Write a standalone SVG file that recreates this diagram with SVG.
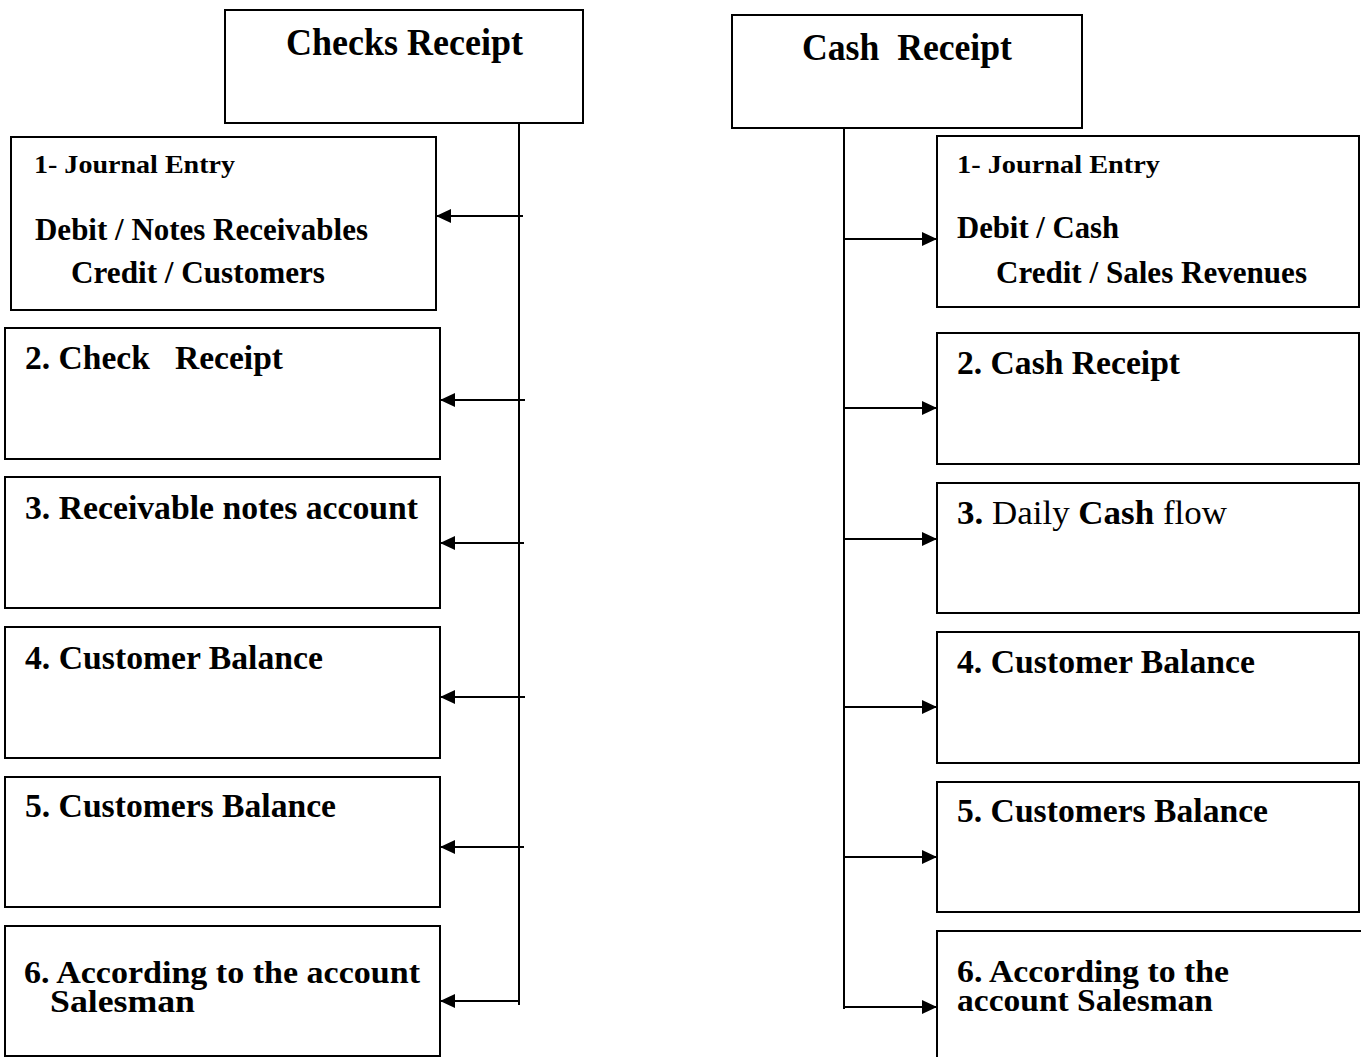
<svg xmlns="http://www.w3.org/2000/svg" width="1361" height="1057" viewBox="0 0 1361 1057">
<style>
.box{fill:#fff;stroke:#000;stroke-width:2}
.t{font-family:"Liberation Serif","Times New Roman",serif;font-weight:bold;fill:#000}
.r{font-weight:normal}
.ln{stroke:#000;stroke-width:2;fill:none}
</style>
<defs>
<marker id="ah" viewBox="0 0 15 14" refX="15" refY="7" markerWidth="15" markerHeight="14" markerUnits="userSpaceOnUse" orient="auto">
<path d="M0,0 L15,7 L0,14 Z" fill="#000"/>
</marker>
</defs>
<rect width="1361" height="1057" fill="#fff"/>

<g id="checks-receipt"><rect class="box" x="225" y="10" width="358" height="113"/>
<text class="t" x="286" y="55" font-size="37" textLength="237" lengthAdjust="spacingAndGlyphs">Checks Receipt</text></g>
<g id="left-1"><rect class="box" x="11" y="137" width="425" height="173"/>
<text class="t" x="34" y="173" font-size="25" textLength="201" lengthAdjust="spacingAndGlyphs">1- Journal Entry</text>
<text class="t" x="35" y="240" font-size="31" textLength="333" lengthAdjust="spacingAndGlyphs">Debit / Notes Receivables</text>
<text class="t" x="71" y="283" font-size="31" textLength="254" lengthAdjust="spacingAndGlyphs">Credit / Customers</text></g>
<g id="left-2"><rect class="box" x="5" y="328" width="435" height="131"/>
<text class="t" x="25" y="369" font-size="34" textLength="258" lengthAdjust="spacingAndGlyphs" xml:space="preserve">2. Check   Receipt</text></g>
<g id="left-3"><rect class="box" x="5" y="477" width="435" height="131"/>
<text class="t" x="25" y="519" font-size="34" textLength="393" lengthAdjust="spacingAndGlyphs">3. Receivable notes account</text></g>
<g id="left-4"><rect class="box" x="5" y="627" width="435" height="131"/>
<text class="t" x="25" y="669" font-size="34" textLength="298" lengthAdjust="spacingAndGlyphs">4. Customer Balance</text></g>
<g id="left-5"><rect class="box" x="5" y="777" width="435" height="130"/>
<text class="t" x="25" y="817" font-size="34" textLength="311" lengthAdjust="spacingAndGlyphs">5. Customers Balance</text></g>
<g id="left-6"><rect class="box" x="5" y="926" width="435" height="130"/>
<text class="t" x="24" y="983" font-size="32" textLength="396" lengthAdjust="spacingAndGlyphs">6. According to the account</text>
<text class="t" x="50" y="1012" font-size="32" textLength="145" lengthAdjust="spacingAndGlyphs">Salesman</text></g>

<g id="cash-receipt"><rect class="box" x="732" y="15" width="350" height="113"/>
<text class="t" x="802" y="60" font-size="37" textLength="210" lengthAdjust="spacingAndGlyphs" xml:space="preserve">Cash  Receipt</text></g>
<g id="right-1"><rect class="box" x="937" y="136" width="422" height="171"/>
<text class="t" x="957" y="173" font-size="25" textLength="203" lengthAdjust="spacingAndGlyphs">1- Journal Entry</text>
<text class="t" x="957" y="238" font-size="31" textLength="162" lengthAdjust="spacingAndGlyphs">Debit / Cash</text>
<text class="t" x="996" y="283" font-size="31" textLength="311" lengthAdjust="spacingAndGlyphs">Credit / Sales Revenues</text></g>
<g id="right-2"><rect class="box" x="937" y="333" width="422" height="131"/>
<text class="t" x="957" y="374" font-size="34" textLength="223" lengthAdjust="spacingAndGlyphs">2. Cash Receipt</text></g>
<g id="right-3"><rect class="box" x="937" y="483" width="422" height="130"/>
<text class="t" x="957" y="524" font-size="34" textLength="270" lengthAdjust="spacingAndGlyphs">3.<tspan class="r"> Daily </tspan>Cash<tspan class="r"> flow</tspan></text></g>
<g id="right-4"><rect class="box" x="937" y="632" width="422" height="131"/>
<text class="t" x="957" y="673" font-size="34" textLength="298" lengthAdjust="spacingAndGlyphs">4. Customer Balance</text></g>
<g id="right-5"><rect class="box" x="937" y="782" width="422" height="130"/>
<text class="t" x="957" y="822" font-size="34" textLength="311" lengthAdjust="spacingAndGlyphs">5. Customers Balance</text></g>
<g id="right-6"><rect class="box" x="937" y="931" width="430" height="140"/>
<text class="t" x="957" y="982" font-size="32" textLength="272" lengthAdjust="spacingAndGlyphs">6. According to the</text>
<text class="t" x="957" y="1011" font-size="32" textLength="256" lengthAdjust="spacingAndGlyphs">account Salesman</text></g>

<g id="connectors">
<line class="ln" x1="519" y1="123" x2="519" y2="1005"/>
<line class="ln" x1="523" y1="216" x2="436" y2="216" marker-end="url(#ah)"/>
<line class="ln" x1="525" y1="400" x2="440" y2="400" marker-end="url(#ah)"/>
<line class="ln" x1="524" y1="543" x2="440" y2="543" marker-end="url(#ah)"/>
<line class="ln" x1="525" y1="697" x2="440" y2="697" marker-end="url(#ah)"/>
<line class="ln" x1="524" y1="847" x2="440" y2="847" marker-end="url(#ah)"/>
<line class="ln" x1="520" y1="1001" x2="440" y2="1001" marker-end="url(#ah)"/>
<line class="ln" x1="844" y1="128" x2="844" y2="1009"/>
<line class="ln" x1="844" y1="239" x2="937" y2="239" marker-end="url(#ah)"/>
<line class="ln" x1="844" y1="408" x2="937" y2="408" marker-end="url(#ah)"/>
<line class="ln" x1="844" y1="539" x2="937" y2="539" marker-end="url(#ah)"/>
<line class="ln" x1="844" y1="707" x2="937" y2="707" marker-end="url(#ah)"/>
<line class="ln" x1="844" y1="857" x2="937" y2="857" marker-end="url(#ah)"/>
<line class="ln" x1="844" y1="1007" x2="937" y2="1007" marker-end="url(#ah)"/>
</g>
</svg>
